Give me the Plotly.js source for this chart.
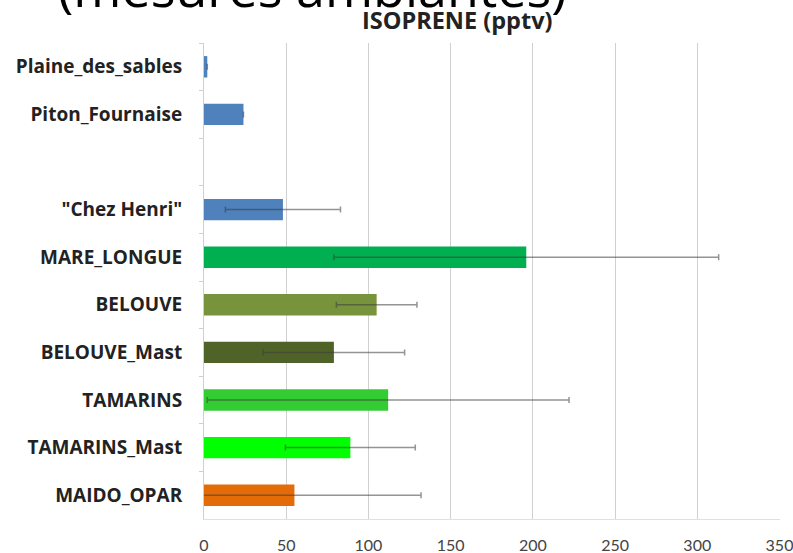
<!DOCTYPE html>
<html>
<head>
<meta charset="utf-8">
<script src="https://cdn.plot.ly/plotly-3.0.1.min.js"></script>
<style>html,body{margin:0;padding:0;background:#fff;}#chart{width:793px;height:553px;}</style>
</head>
<body>
<div id="chart"></div>
<script>
const sites = ["Plaine_des_sables", "Piton_Fournaise", " ", "\"Chez Henri\"", "MARE_LONGUE", "BELOUVE", "BELOUVE_Mast", "TAMARINS", "TAMARINS_Mast", "MAIDO_OPAR"];
const isoprene = [2, 24, null, 48, 196, 105, 79, 112, 89, 55];
const isopreneErr = [null, null, null, 35, 117, 24.5, 43, 110, 39.5, 77];
const barColors = ["#4F81BD", "#4F81BD", "#4F81BD", "#4F81BD", "#00B050", "#77933C", "#4F6228", "#33CC33", "#00FF00", "#E36C09"];
const xTicks = [0, 50, 100, 150, 200, 250, 300, 350];

const trace = {
  type: "bar",
  orientation: "h",
  y: sites,
  x: isoprene,
  marker: {color: barColors, line: {width: 0}},
  error_x: {type: "data", array: isopreneErr, visible: true, color: "rgba(60,60,60,0.55)", thickness: 1.5, width: 3},
  hoverinfo: "x+y"
};

const layout = {
  width: 793, height: 553,
  margin: {l: 204, r: 13, t: 43, b: 34},
  paper_bgcolor: "#fff", plot_bgcolor: "#fff",
  showlegend: false,
  bargap: 0.55,
  xaxis: {
    range: [0, 350.3], tickvals: xTicks, ticktext: xTicks.map(String),
    showgrid: true, gridcolor: "#d0d0d0", gridwidth: 1,
    zeroline: false, showline: true, linecolor: "#e0e0e0",
    ticks: "", ticklabelstandoff: 12, ticklabeloverflow: "allow",
    tickfont: {family: "Lato", size: 16, color: "#444"}
  },
  yaxis: {
    type: "category", autorange: "reversed",
    showline: true, linecolor: "#cfcfcf", linewidth: 1,
    ticks: "outside", ticklen: 4, tickcolor: "#cfcfcf", tickson: "boundaries",
    showgrid: false, zeroline: false,
    tickfont: {family: "Open Sans", size: 19, color: "#222", weight: "bold"},
    ticklabelstandoff: 17
  },
  annotations: [
    {text: "(mesures ambiantes)", xref: "paper", yref: "paper", x: 0.189, y: 1, xanchor: "center", yanchor: "bottom",
     yshift: 19, showarrow: false, font: {family: "Open Sans", size: 52, color: "#000"}},
    {text: "<b>ISOPRENE (pptv)</b>", xref: "paper", yref: "paper", x: 0.44, y: 1, xanchor: "center", yanchor: "middle",
     yshift: 23, showarrow: false, font: {family: "Open Sans", size: 23.5, color: "#222"}}
  ]
};

Plotly.newPlot("chart", [trace], layout, {staticPlot: true});
</script>
</body>
</html>
